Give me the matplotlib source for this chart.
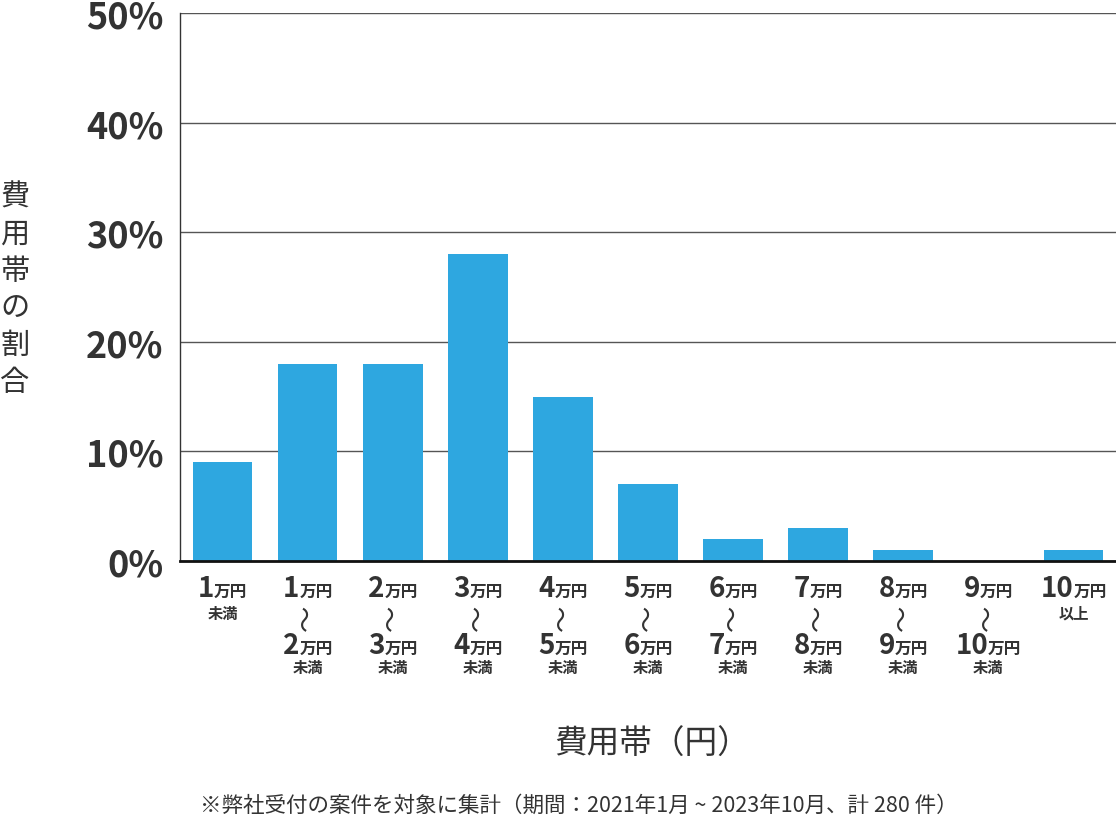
import matplotlib
matplotlib.use("Agg")
import matplotlib.pyplot as plt
from matplotlib.offsetbox import TextArea, HPacker, AnnotationBbox
from matplotlib.transforms import blended_transform_factory

plt.rcParams['font.family'] = ['Noto Sans CJK JP', 'DejaVu Sans']

# ---- data ----
label_from = ["1", "1", "2", "3", "4", "5", "6", "7", "8", "9", "10"]
label_to = [None, "2", "3", "4", "5", "6", "7", "8", "9", "10", None]
label_suffix = ["未満", "未満", "未満", "未満", "未満", "未満", "未満", "未満", "未満", "未満", "以上"]
unit = "万円"
values = [9, 18, 18, 28, 15, 7, 2, 3, 1, 0, 1]
yticks = [0, 10, 20, 30, 40, 50]
ytick_labels = ["0%", "10%", "20%", "30%", "40%", "50%"]
ylabel = "費用帯の割合"
xlabel = "費用帯（円）"
footnote = "※弊社受付の案件を対象に集計（期間：2021年1月 ~ 2023年10月、計 280 件）"

TXT = "#333333"
BAR = "#2EA7E0"
W, H = 1116, 828

fig = plt.figure(figsize=(W / 100, H / 100), dpi=100)
ax = fig.add_axes([180 / W, (H - 562) / H, (W - 180) / W, 548 / H])

x = list(range(len(values)))
ax.bar(x, values, width=0.7, color=BAR, zorder=3)
ax.set_xlim(-0.5, len(values) - 0.5)
ax.set_ylim(0, 50)
ax.set_yticks(yticks)
ax.set_yticklabels(ytick_labels, fontsize=26, fontweight='bold', color=TXT)
ax.set_xticks([])
ax.tick_params(axis='y', length=0, pad=12)
ax.grid(axis='y', color='#555555', linewidth=1, zorder=0)
for s in ['top', 'right']:
    ax.spines[s].set_visible(False)
ax.spines['left'].set_color('#333333')
ax.spines['left'].set_linewidth(1)
ax.spines['bottom'].set_color('#111111')
ax.spines['bottom'].set_linewidth(2)
ax.spines['bottom'].set_zorder(4)

blend = blended_transform_factory(ax.transData, fig.transFigure)


def num_row(num):
    t1 = TextArea(num, textprops=dict(fontsize=20, fontweight='bold', color=TXT))
    t2 = TextArea(unit, textprops=dict(fontsize=12, fontweight='bold', color=TXT))
    return HPacker(children=[t1, t2], align='baseline', pad=0, sep=0)


def place(box, xi, y_px):
    ab = AnnotationBbox(box, (xi, H - y_px), xycoords=('data', 'figure pixels'),
                        frameon=False, box_alignment=(0.5, 0.5), pad=0,
                        annotation_clip=False)
    ax.add_artist(ab)


for i in x:
    place(num_row(label_from[i]), i, 589)
    if label_to[i] is None:
        place(TextArea(label_suffix[i], textprops=dict(fontsize=11, fontweight='bold', color=TXT)), i, 614)
    else:
        ax.text(i, 1 - 618 / H, "〜", transform=blend, rotation=90, fontsize=19,
                color=TXT, ha='center', va='center')
        place(num_row(label_to[i]), i, 646)
        place(TextArea(label_suffix[i], textprops=dict(fontsize=11, fontweight='bold', color=TXT)), i, 668)

for k, ch in enumerate(ylabel):
    fig.text(15 / W, 1 - (198 + 37 * k) / H, ch, fontsize=21, color=TXT,
             ha='center', va='center')

fig.text(652 / W, 1 - 745 / H, xlabel, fontsize=23.5, color=TXT, ha='center', va='center')
fig.text(200 / W, 1 - 806 / H, footnote, fontsize=15.5, color=TXT, ha='left', va='center')

fig.savefig("out.png", dpi=100)
